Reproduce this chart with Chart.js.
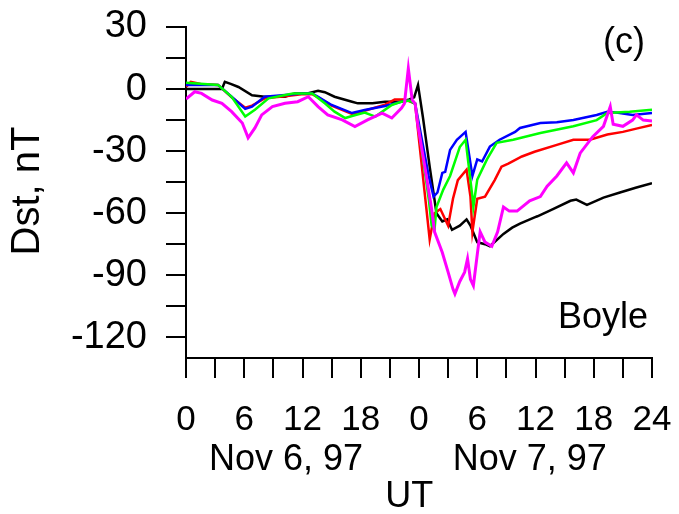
<!DOCTYPE html>
<html lang="en">
<head>
    <meta charset="UTF-8">
    <title>Dst Boyle</title>
    <script src="https://cdn.jsdelivr.net/npm/chart.js"></script>
    <style>
        body {
            margin: 0;
            background: #fff;
        }
        #chart-container {
            width: 679px;
            height: 514px;
        }
    </style>
</head>
<body>
    <div id="chart-container">
        <canvas id="dstChart" width="679" height="514"></canvas>
    </div>

    <script>
        // hours since 0 UT Nov 6, 97 and Dst in nT
        const blackT = [0, 3.7, 4.0, 4.6, 5.4, 6.8, 8.1, 10.2, 11.2, 12.5, 13.6, 14.3, 15.3, 17.1, 17.7, 19.2, 20.5, 22.2, 23.0, 23.5, 23.9, 24.4, 25.1, 25.8, 26.4, 26.9, 27.4, 28.2, 28.9, 29.3, 29.6, 30.0, 30.8, 31.3, 32.7, 33.6, 34.4, 35.9, 36.2, 37.8, 39.6, 40.2, 41.3, 43.0, 44.7, 46.4, 48];
        const blackV = [0, 0, 3.5, 2.5, 1, -3, -3.7, -3.7, -2.1, -2.1, -0.8, -1.5, -3.7, -6.1, -6.9, -6.9, -6.1, -6.1, -5, -4, 2, -13.5, -37.5, -60, -64, -63, -68, -66, -63, -66, -69.5, -74, -75, -76, -70, -67, -65, -62, -61.5, -58, -54, -53.4, -56, -52.5, -50, -47.6, -45.5];

        const redT = [0, 0.5, 1.5, 3.3, 4.7, 6.1, 6.8, 8.1, 10.2, 11.9, 13.0, 13.6, 15.0, 17.1, 18.4, 20.5, 21.5, 22.5, 23.6, 25.1, 25.6, 26.2, 27.0, 27.5, 28.0, 28.9, 29.3, 29.5, 30.0, 30.8, 31.8, 32.5, 33.2, 34.6, 35.9, 38.2, 39.9, 41.6, 43.4, 45.0, 46.5, 48];
        const redV = [1, 3.5, 2.5, 2, -4, -9, -8, -4.5, -3.5, -2.5, -2.5, -4, -8, -12, -10.5, -7.5, -5, -5, -7, -72.7, -60, -58, -66, -53, -44, -39, -52, -69, -53, -52, -44, -37.5, -36, -32.6, -30.3, -27, -24.5, -24.5, -22, -20.7, -19, -17.3];

        const blueT = [0, 3.3, 4.7, 6.1, 6.8, 8.1, 10.2, 11.9, 13.0, 13.6, 15.0, 17.1, 18.4, 20.5, 22.2, 23.0, 23.6, 25.0, 25.5, 25.9, 26.4, 26.7, 27.2, 27.9, 28.8, 29.5, 30.0, 30.5, 31.3, 32.3, 33.9, 34.4, 36.5, 38.2, 39.9, 42.3, 43.4, 44.5, 46.0, 48];
        const blueV = [2, 2, -3.7, -9.6, -8.5, -3.7, -2.9, -2.1, -2.1, -3.7, -7.7, -11.6, -10.1, -8.2, -6.1, -5.5, -7, -42, -52, -50, -40.5, -40, -29.4, -24.5, -20.7, -42, -34, -35, -27.8, -24.5, -20.7, -18.8, -16.4, -16, -15, -12.5, -11, -11.5, -12.5, -11.6];

        const greenT = [0, 3.3, 4.7, 6.1, 7.1, 8.5, 11.0, 13.0, 14.3, 15.3, 16.4, 17.1, 18.4, 19.5, 21.2, 22.2, 23.0, 23.6, 25.0, 25.3, 25.6, 25.8, 26.5, 27.2, 28.2, 28.8, 29.5, 29.6, 30.0, 31.0, 32.0, 33.7, 36.5, 39.9, 42.3, 43.4, 45.7, 48];
        const greenV = [3, 2, -3.7, -13.3, -10, -4.5, -2.1, -2.1, -6.9, -10.9, -14, -13, -11.4, -13.3, -7.7, -6.1, -5.5, -7, -53, -66, -68, -57, -48.6, -42, -28, -24.5, -52, -57, -43.8, -34, -26, -24.5, -21.2, -18, -15, -11.6, -11, -10];

        const magentaT = [0, 0.9, 1.6, 2.7, 3.7, 4.7, 5.8, 6.4, 7.1, 7.8, 8.9, 10.2, 11.5, 12.6, 13.6, 14.6, 16.1, 17.4, 18.7, 20.2, 21.2, 22.2, 22.5, 22.9, 23.3, 23.6, 23.9, 24.6, 25.3, 25.6, 26.4, 27.0, 27.5, 27.7, 28.2, 28.7, 29.0, 29.3, 29.6, 30.0, 30.3, 30.8, 31.5, 32.1, 32.7, 33.3, 34.1, 35.4, 36.5, 37.2, 38.2, 39.2, 39.9, 40.6, 41.9, 43.0, 43.7, 44.0, 45.0, 46.0, 46.4, 47.1, 48];
        const magentaV = [-4.8, -1.3, -2.1, -5.3, -6.9, -10.9, -16.4, -23.6, -18.8, -12.5, -8.5, -6.9, -6.1, -3.7, -8.5, -12.5, -14.9, -18.1, -14.9, -11.6, -14, -9.2, -7, 10, -5.3, -7, -18, -37.5, -58, -69, -79, -88.5, -96.7, -99, -93, -88.5, -82, -92, -95, -80, -69, -74, -76, -69, -57, -59, -59, -54, -52, -47, -42, -35.7, -40.5, -31, -23, -18, -8.5, -17, -18, -15, -12.5, -15, -15.5];

        const xTicks = [0, 3, 6, 9, 12, 15, 18, 21, 24, 27, 30, 33, 36, 39, 42, 45, 48];
        const yTicks = [-120, -105, -90, -75, -60, -45, -30, -15, 0, 15, 30];

        const pts = (ts, vs) => ts.map((t, i) => ({ x: t, y: vs[i] }));
        const font = '"Liberation Sans", Arial, sans-serif';

        const textPlugin = {
            id: 'texts',
            afterDraw(chart) {
                const c = chart.ctx;
                const xs = chart.scales.x;
                c.save();
                c.fillStyle = '#000';
                c.textBaseline = 'middle';
                c.textAlign = 'center';
                c.font = '36px ' + font;
                c.fillText('Nov 6, 97', xs.getPixelForValue(10.3), 460);
                c.fillText('Nov 7, 97', xs.getPixelForValue(35.4), 460);
                c.fillText('UT', xs.getPixelForValue(23.0), 497);
                c.textAlign = 'right';
                c.fillText('(c)', 645, 43);
                c.fillText('Boyle', 648, 318);
                c.translate(28, 191);
                c.rotate(-Math.PI / 2);
                c.textAlign = 'center';
                c.font = '40px ' + font;
                c.fillText('Dst, nT', 0, 0);
                c.restore();
            }
        };

        const line = (data, color, w) => ({
            data: data,
            borderColor: color,
            borderWidth: w,
            pointRadius: 0,
            fill: false,
            tension: 0
        });

        // keep the plot box where the figure has it, ignoring label overflow
        const noOverflow = s => {
            s.paddingTop = 0;
            s.paddingBottom = 0;
            s.paddingLeft = 0;
            s.paddingRight = 0;
        };

        new Chart(document.getElementById('dstChart').getContext('2d'), {
            type: 'line',
            data: {
                datasets: [
                    line(pts(magentaT, magentaV), '#ff00ff', 3),
                    line(pts(greenT, greenV), '#00ff00', 2.5),
                    line(pts(blueT, blueV), '#0000ff', 2.5),
                    line(pts(redT, redV), '#ff0000', 2.5),
                    line(pts(blackT, blackV), '#000000', 2.5)
                ]
            },
            options: {
                responsive: false,
                animation: false,
                layout: { padding: { left: 0, top: 27, right: 27, bottom: 0 } },
                plugins: { legend: { display: false }, tooltip: { enabled: false } },
                scales: {
                    x: {
                        type: 'linear',
                        min: 0,
                        max: 48,
                        afterBuildTicks: s => { s.ticks = xTicks.map(v => ({ value: v })); },
                        afterFit: s => { s.height = 156; noOverflow(s); },
                        border: { display: true, color: '#000', width: 2 },
                        grid: { drawOnChartArea: false, tickLength: 20, color: '#000', lineWidth: 2 },
                        ticks: {
                            autoSkip: false,
                            maxRotation: 0,
                            padding: 21,
                            color: '#000',
                            font: { family: font, size: 35 },
                            callback: v => v % 6 === 0 ? String(v === 48 ? 24 : v % 24) : ''
                        }
                    },
                    y: {
                        min: -130,
                        max: 30,
                        afterBuildTicks: s => { s.ticks = yTicks.map(v => ({ value: v })); },
                        afterFit: s => { s.width = 186; noOverflow(s); },
                        border: { display: true, color: '#000', width: 2 },
                        grid: { drawOnChartArea: false, tickLength: 20, color: '#000', lineWidth: 2 },
                        ticks: {
                            autoSkip: false,
                            padding: 19,
                            color: '#000',
                            font: { family: font, size: 38 },
                            callback: v => v % 30 === 0 ? String(v) : ''
                        }
                    }
                }
            },
            plugins: [textPlugin]
        });
    </script>
</body>
</html>
